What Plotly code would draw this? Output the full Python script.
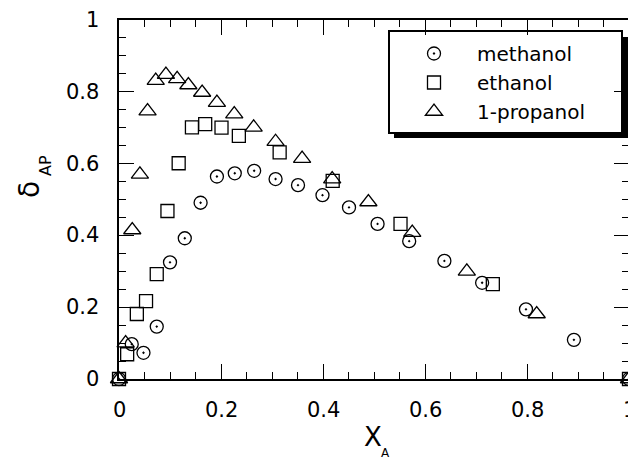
import plotly.graph_objects as go

# methanol (circles)
meth_x = [0.0, 0.025, 0.048, 0.074, 0.100, 0.129, 0.160, 0.192, 0.227, 0.265, 0.307, 0.351,
          0.399, 0.451, 0.507, 0.569, 0.638, 0.712, 0.798, 0.892, 1.0]
meth_y = [0.0, 0.097, 0.073, 0.146, 0.325, 0.392, 0.491, 0.564, 0.573, 0.580, 0.557, 0.540,
          0.512, 0.478, 0.432, 0.384, 0.329, 0.268, 0.194, 0.109, 0.0]
# ethanol (squares)
eth_x = [0.0, 0.016, 0.035, 0.053, 0.074, 0.095, 0.117, 0.143, 0.169, 0.201, 0.235, 0.315,
         0.419, 0.552, 0.733, 1.0]
eth_y = [0.0, 0.069, 0.181, 0.217, 0.292, 0.468, 0.601, 0.701, 0.710, 0.700, 0.677, 0.631,
         0.552, 0.432, 0.264, 0.0]
# 1-propanol (triangles)
prop_x = [0.0, 0.013, 0.026, 0.041, 0.056, 0.072, 0.092, 0.114, 0.136, 0.163, 0.192, 0.226,
          0.264, 0.307, 0.359, 0.418, 0.489, 0.575, 0.682, 0.819, 1.0]
prop_y = [0.0, 0.100, 0.415, 0.570, 0.746, 0.831, 0.848, 0.836, 0.819, 0.798, 0.770, 0.738,
          0.701, 0.661, 0.614, 0.557, 0.493, 0.408, 0.300, 0.181, 0.0]

tick_vals = [0, 0.2, 0.4, 0.6, 0.8, 1]
tick_text = ["0", "0.2", "0.4", "0.6", "0.8", "1"]
tick_step = 0.2
minor_step = 0.05

FONT = "DejaVu Sans"
OFF = 8  # page body margin
W, H = 628, 453
ML, MT = 111, 12
PW, PH = 510, 359
MR = W - ML - PW
MB = H - MT - PH


def px2paper(px, py):
    return (px - OFF - ML) / PW, (OFF + MT + PH - py) / PH


fig = go.Figure()
common = dict(mode="markers", cliponaxis=False)
fig.add_trace(go.Scatter(x=meth_x, y=meth_y, name="methanol",
                         marker=dict(symbol="circle-open-dot", size=13, color="black",
                                     line=dict(width=1.3, color="black")), **common))
fig.add_trace(go.Scatter(x=eth_x, y=eth_y, name="ethanol",
                         marker=dict(symbol="square-open", size=13, color="black",
                                     line=dict(width=1.3, color="black")), **common))
fig.add_trace(go.Scatter(x=prop_x, y=prop_y, name="1-propanol",
                         marker=dict(symbol="triangle-up-open", size=15, color="black",
                                     line=dict(width=1.3, color="black")), **common))

# axes: inside ticks, mirrored, labels supplied separately below
tick_axis = dict(
    range=[0, 1], tickmode="linear", tick0=0, dtick=tick_step, ticks="inside", ticklen=15,
    tickwidth=1, tickcolor="black", showline=True, linewidth=2, linecolor="black",
    mirror="allticks", showgrid=False, zeroline=False, automargin=False,
    showticklabels=False,
    minor=dict(dtick=minor_step, ticks="inside", ticklen=7, tickwidth=1, tickcolor="black",
               showgrid=False),
)
fig.update_layout(xaxis=tick_axis, yaxis=tick_axis)

# tick labels placed at the tick values through the axes' scales
tick_font = dict(family=FONT, size=21, color="black")
for v, t in zip(tick_vals, tick_text):
    fig.add_annotation(xref="x", yref="y", x=v, y=0, text=t, showarrow=False,
                       xanchor="center", yanchor="middle", yshift=-31, font=tick_font)
    fig.add_annotation(xref="x", yref="y", x=0, y=v, text=t, showarrow=False,
                       xanchor="right", yanchor="middle", xshift=-18, font=tick_font)

# legend box with heavy shadow
sx0, sy1 = px2paper(394, 37)
sx1, sy0 = px2paper(628, 138)
bx0, by1 = px2paper(389, 31)
bx1, by0 = px2paper(622, 133)
fig.add_shape(type="rect", xref="paper", yref="paper", x0=sx0, x1=sx1, y0=sy0, y1=sy1,
              fillcolor="black", line=dict(width=0), layer="below")
fig.add_shape(type="rect", xref="paper", yref="paper", x0=bx0, x1=bx1, y0=by0, y1=by1,
              fillcolor="white", line=dict(width=2, color="black"), layer="below")

lx, ly = px2paper(391, 34)
fig.update_layout(
    width=W, height=H, margin=dict(l=ML, r=MR, t=MT, b=MB),
    plot_bgcolor="rgba(0,0,0,0)", paper_bgcolor="white",
    showlegend=True,
    legend=dict(x=lx, y=ly, xanchor="left", yanchor="top", bgcolor="rgba(0,0,0,0)",
                borderwidth=0, font=dict(family=FONT, size=20, color="black"),
                itemwidth=76, tracegroupgap=0),
    font=dict(family=FONT, color="black"),
)


# axis titles
def label(px, py, text, size, angle=0):
    ax, ay = px2paper(px, py)
    fig.add_annotation(xref="paper", yref="paper", x=ax, y=ay, text=text, showarrow=False,
                       xanchor="center", yanchor="middle", textangle=angle,
                       font=dict(family=FONT, size=size, color="black"))


label(373, 437, "X", 26)
label(385, 453, "A", 12)
label(30, 190, "δ", 28, -90)
label(45, 166, "AP", 16, -90)

fig.write_html("out.html")
